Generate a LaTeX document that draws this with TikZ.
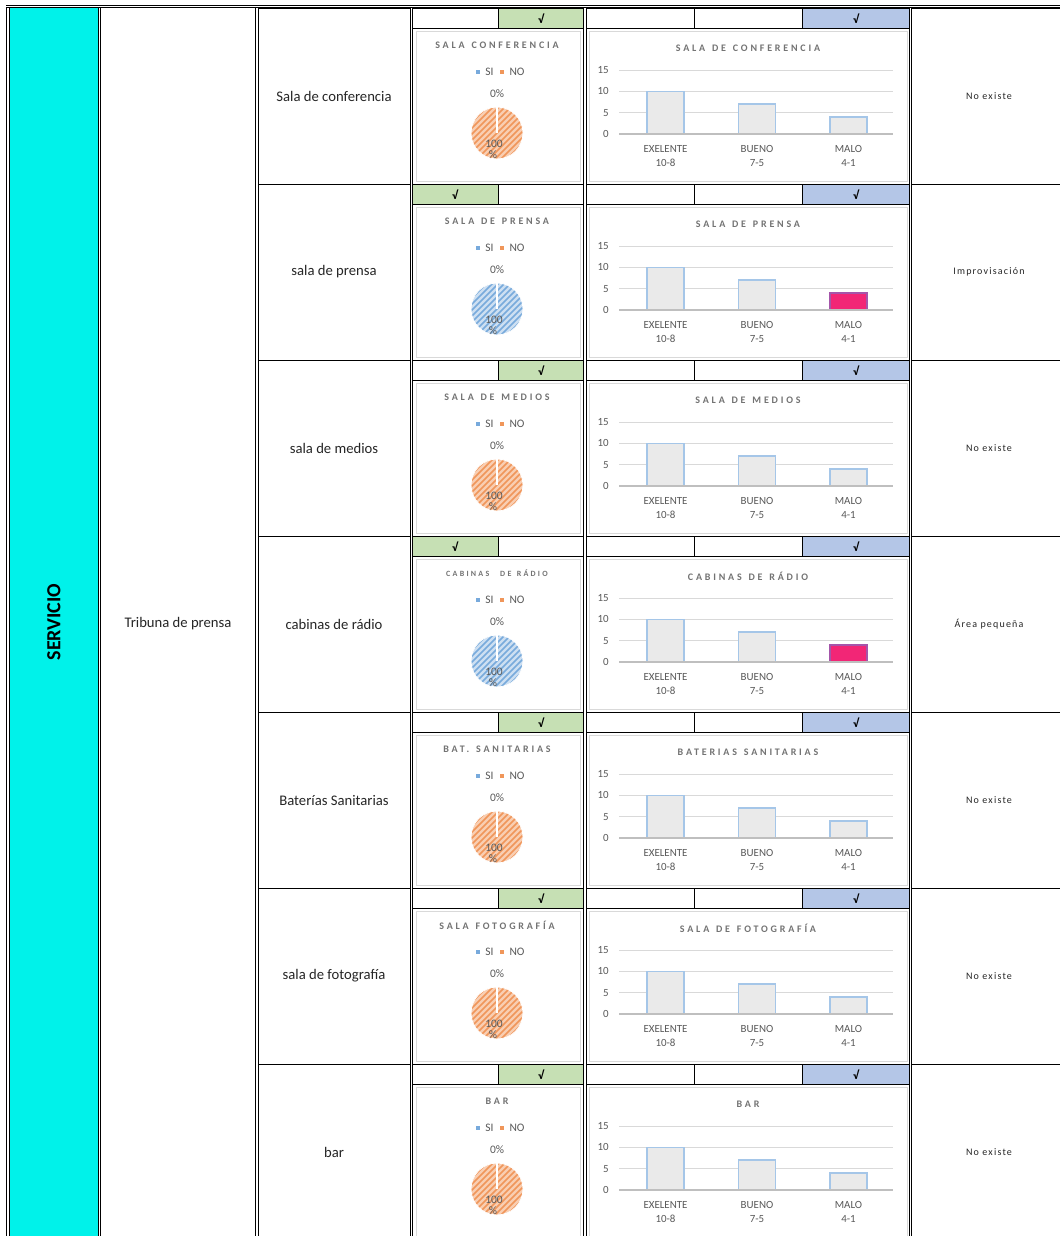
\documentclass[tikz,border=0pt]{standalone}
\usepackage{fontspec}
\setmainfont{Carlito}
\newfontfamily\ttlfont[LetterSpace=28,WordSpace=1.35]{Carlito}
\newfontfamily\cmtfont[LetterSpace=12]{Carlito}
\definecolor{cyanc}{RGB}{0,242,234}
\definecolor{chkg}{RGB}{198,224,180}
\definecolor{chkb}{RGB}{180,198,231}
\definecolor{gridc}{RGB}{217,217,217}
\definecolor{axisc}{RGB}{191,191,191}
\definecolor{txtc}{RGB}{89,89,89}
\definecolor{ttlc}{RGB}{115,115,115}
\definecolor{orgL}{RGB}{249,206,178}
\definecolor{orgD}{RGB}{240,150,90}
\definecolor{bluL}{RGB}{205,223,242}
\definecolor{bluD}{RGB}{120,170,220}
\definecolor{barfill}{RGB}{234,234,234}
\definecolor{baredge}{RGB}{165,198,232}
\definecolor{pinkf}{RGB}{242,38,118}
\definecolor{pinke}{RGB}{165,85,170}
\tikzset{
  thinl/.style={draw=black, line width=0.75pt},
  dbl/.style={draw=black, line width=0.7pt, double=white, double distance=1.0pt},
  dblthick/.style={draw=black, line width=1.1pt, double=white, double distance=0.7pt},
  boxs/.style={draw=gridc, line width=0.6pt, fill=white},
  chkf/.style={font=\fontsize{9}{10}\selectfont\bfseries, inner sep=0pt},
  nmf/.style={font=\fontsize{11}{12}\selectfont, text=black!85, inner sep=0pt},
  cmf/.style={font=\cmtfont\fontsize{7.5}{8}\selectfont, text=black!85, inner sep=0pt},
  ttlf/.style={font=\ttlfont\fontsize{7.5}{8}\selectfont\bfseries, text=ttlc, inner sep=0pt},
  axf/.style={font=\fontsize{8.2}{9}\selectfont, text=txtc, inner sep=0pt},
  lgf/.style={font=\fontsize{8.6}{9}\selectfont, text=txtc, inner sep=0pt},
  barst/.style={fill=barfill, draw=baredge, line width=1pt},
  pinkst/.style={fill=pinkf, draw=pinke, line width=1pt},
  gridl/.style={draw=gridc, line width=0.6pt},
}
% #1 idx, #2 name, #3 pie title, #4 bar title, #5 comment, #6 pie scheme, #7 pie check x, #8 malo style
\newcommand\tabrow[8]{%
\begin{scope}[shift={(0,{8+176*#1})}]
  \fill[chkg] ({#7-43},0) rectangle ({#7+43},20);
  \fill[chkb] (802,0) rectangle (910,20);
  \draw[thinl] (258,0) -- (1060,0);
  \draw[thinl] (413,20) -- (910,20);
  \draw[thinl] (498,0) -- (498,20) (694,0) -- (694,20) (802,0) -- (802,20);
  \node[chkf] (cp#1) at (#7,10.5) {√};
  \node[chkf] (cb#1) at (856,10.5) {√};
  \node[nmf] (nm#1) at (334,88) {#2};
  \node[cmf] (cm#1) at (989,88) {#5};
  % pie chart
  \draw[boxs] (416,23) rectangle (580,173);
  \node[ttlf] (pt#1) at (497,37) {#3};
  \fill[bluD] (476,62) rectangle (480,66);
  \node[lgf] (ls#1) at (489.5,64) {SI};
  \fill[orgD] (499.5,62) rectangle (503.5,66);
  \node[lgf] (ln#1) at (517,64) {NO};
  \node[lgf] (pz#1) at (497,86) {0\%};
  \begin{scope}
    \clip (497,125) circle (26);
    \fill[#6L] (497,125) circle (26);
    \foreach \s in {-66,-60,...,66} \draw[#6D, line width=1.1pt] ({497+\s-32},157) -- ({497+\s+32},93);
  \end{scope}
  \draw[white, line width=0.6pt] (497,125) circle (26);
  \draw[white, line width=1.3pt] (497,125) -- (497,99);
  \node[lgf] (ph#1) at (494,136) {100};
  \node[lgf] (pp#1) at (493,147) {\%};
  % bar chart
  \draw[boxs] (589,23) rectangle (907,173);
  \node[ttlf] (bt#1) at (748,40) {#4};
  \foreach \v/\l in {0/0,5/5,10/10,15/15} {
    \draw[gridl] (619,{126-4.267*\v}) -- (893,{126-4.267*\v});
    \node[axf, anchor=east] at (609,{126-4.267*\v}) {\l};
  }
  \draw[barst] (647,126) rectangle (684,83.3);
  \draw[barst] (738.5,126) rectangle (775.5,96.1);
  \draw[#8] (830,126) rectangle (867,108.9);
  \draw[draw=axisc, line width=1pt] (619,126) -- (893,126);
  \node[axf] (c1a#1) at (665.5,141) {EXELENTE};
  \node[axf] (c1b#1) at (665.5,155) {10-8};
  \node[axf] (c2a#1) at (757,141) {BUENO};
  \node[axf] (c2b#1) at (757,155) {7-5};
  \node[axf] (c3a#1) at (848.5,141) {MALO};
  \node[axf] (c3b#1) at (848.5,155) {4-1};
\end{scope}}
\begin{document}
\begin{tikzpicture}[x=0.75pt,y=-0.75pt]
\useasboundingbox (0,0) rectangle (1060,1236);
\fill[white] (0,0) rectangle (1060,1236);
\fill[cyanc] (9,8) rectangle (99,1236);
\tabrow{0}{Sala de conferencia}{SALA CONFERENCIA}{SALA DE CONFERENCIA}{No existe}{org}{541}{barst}
\tabrow{1}{sala de prensa}{SALA DE PRENSA}{SALA DE PRENSA}{Improvisación}{blu}{455}{pinkst}
\tabrow{2}{sala de medios}{SALA DE MEDIOS}{SALA DE MEDIOS}{No existe}{org}{541}{barst}
\tabrow{3}{cabinas de rádio}{{\fontsize{6}{7}\selectfont CABINAS\ \ DE RÁDIO}}{CABINAS DE RÁDIO}{Área pequeña}{blu}{455}{pinkst}
\tabrow{4}{Baterías Sanitarias}{BAT. SANITARIAS}{BATERIAS SANITARIAS}{No existe}{org}{541}{barst}
\tabrow{5}{sala de fotografía}{SALA FOTOGRAFÍA}{SALA DE FOTOGRAFÍA}{No existe}{org}{541}{barst}
\tabrow{6}{bar}{BAR}{BAR}{No existe}{org}{541}{barst}
\node[font=\fontsize{15}{16}\selectfont\bfseries, rotate=90, inner sep=0pt] (serv) at (54,622) {SERVICIO};
\node[nmf] (trib) at (178,624) {Tribuna de prensa};
\foreach \x in {8,99.5,257,411.5,585,910.5} \draw[dbl] (\x,7) -- (\x,1237);
\draw[dblthick] (6,6.5) -- (1061,6.5);
\end{tikzpicture}
\end{document}
